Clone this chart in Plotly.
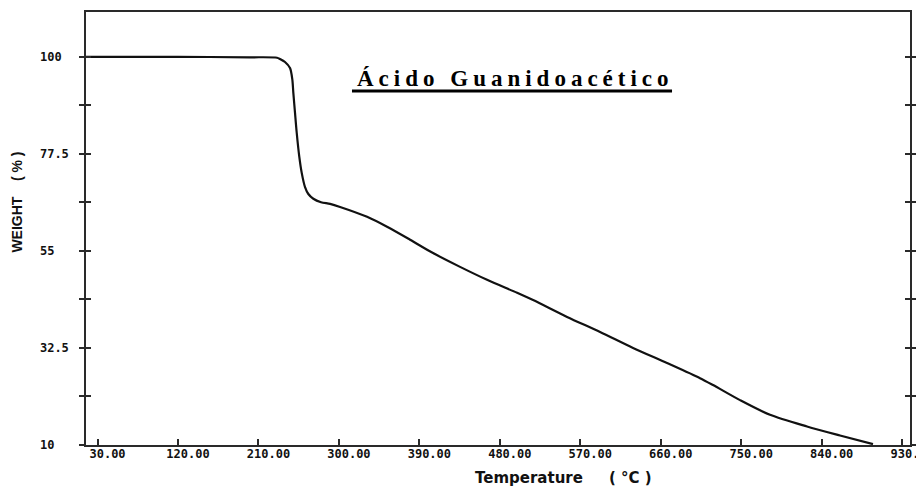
import plotly.graph_objects as go

# TGA curve
temperature = [17, 120, 200, 230.8, 234.1, 239.7, 245.3, 247.9, 249.0, 250.9, 252.8, 255.7,
               258.4, 262.1, 265.8, 271.4, 280.0, 290.1, 301.3, 331.5, 353.8, 379.6, 405.3,
               435.5, 465.7, 499.3, 517.2, 555.2, 592.1, 629.0, 667.0, 703.9, 718.5, 748.7,
               782.2, 823.6, 860.5, 897.4]
weight = [100.0, 100.0, 99.9, 99.8, 99.5, 98.8, 97.4, 94.7, 91.7, 87.0, 82.4, 76.8,
          73.1, 69.8, 68.2, 67.1, 66.3, 65.9, 65.2, 62.9, 60.6, 57.6, 54.5,
          51.3, 48.3, 45.3, 43.6, 39.7, 36.2, 32.5, 29.0, 25.5, 23.9, 20.4,
          17.0, 14.3, 12.2, 10.2]

x_ticks = [30, 120, 210, 300, 390, 480, 570, 660, 750, 840, 930]
y_ticks = [10, 21.25, 32.5, 43.75, 55, 66.25, 77.5, 88.75, 100]
y_labels = ["10\u00a0\u00a0", "", "32.5", "", "55\u00a0\u00a0", "", "77.5", "", "100\u00a0"]

AXIS_COLOR = "#2a2a2a"
MONO = dict(family="DejaVu Sans Mono", size=12, color="#111", weight="bold")

fig = go.Figure()
fig.add_trace(go.Scatter(
  x=temperature, y=weight, mode="lines",
  line=dict(color="#111", width=2.2, shape="spline", smoothing=0.8),
  showlegend=False, hoverinfo="x+y",
))

# the page body adds an 8px offset, so the figure is 8px smaller than the window
fig.update_layout(
  width=916, height=484,
  margin=dict(l=78, r=14, t=4, b=47),
  paper_bgcolor="white", plot_bgcolor="white",
  xaxis=dict(
    range=[17.1, 938.8], tickvals=x_ticks, tickformat=".2f",
    ticks="inside", ticklen=6, tickwidth=1.5, tickcolor=AXIS_COLOR,
    showline=True, linecolor=AXIS_COLOR, linewidth=1.5, mirror=True,
    showgrid=False, zeroline=False, tickfont=MONO, automargin=False,
    ticklabelshift=10, ticklabelstandoff=-3, ticklabeloverflow="allow",
  ),
  yaxis=dict(
    range=[10, 110.4], tickvals=y_ticks, ticktext=y_labels,
    ticks="outside", ticklen=5, tickwidth=1.5, tickcolor=AXIS_COLOR,
    showline=True, linecolor=AXIS_COLOR, linewidth=1.5, mirror="ticks",
    showgrid=False, zeroline=False, tickfont=MONO, ticklabelstandoff=8,
    automargin=False,
  ),
  yaxis2=dict(
    range=[10, 110.4], tickvals=y_ticks, overlaying="y", anchor="x",
    ticks="inside", ticklen=5, tickwidth=1.5, tickcolor=AXIS_COLOR,
    showticklabels=False, showline=False, mirror="ticks",
    showgrid=False, zeroline=False, automargin=False,
  ),
)

# dummy trace so the overlay axis is drawn
fig.add_trace(go.Scatter(x=[], y=[], yaxis="y2", showlegend=False, hoverinfo="skip"))

# axis titles
fig.add_annotation(
  text="WEIGHT\u00a0\u00a0\u00a0\u00a0( % )", textangle=-90,
  xref="paper", yref="paper", x=-0.0831, y=0.561, xanchor="center", yanchor="middle",
  showarrow=False, font=dict(family="Liberation Sans", size=14, color="#111", weight="bold"),
)
fig.add_annotation(
  text="Temperature\u00a0\u00a0\u00a0\u00a0\u00a0( °C )",
  xref="paper", yref="paper", x=0.580, y=-0.0762, xanchor="center", yanchor="middle",
  showarrow=False, font=dict(family="DejaVu Sans", size=15, color="#111", weight="bold"),
)

# chart label
fig.add_annotation(
  text='<span style="letter-spacing:5px">Ácido Guanidoacético</span>',
  xref="paper", yref="paper", x=0.521, y=0.847, xanchor="center", yanchor="middle",
  showarrow=False, font=dict(family="Liberation Serif", size=23, color="#000", weight="bold"),
)
fig.add_shape(type="line", xref="paper", yref="paper", x0=0.3228, x1=0.7112, y0=0.8176, y1=0.8176,
              line=dict(color="#000", width=3))

fig.write_html("out.html")
